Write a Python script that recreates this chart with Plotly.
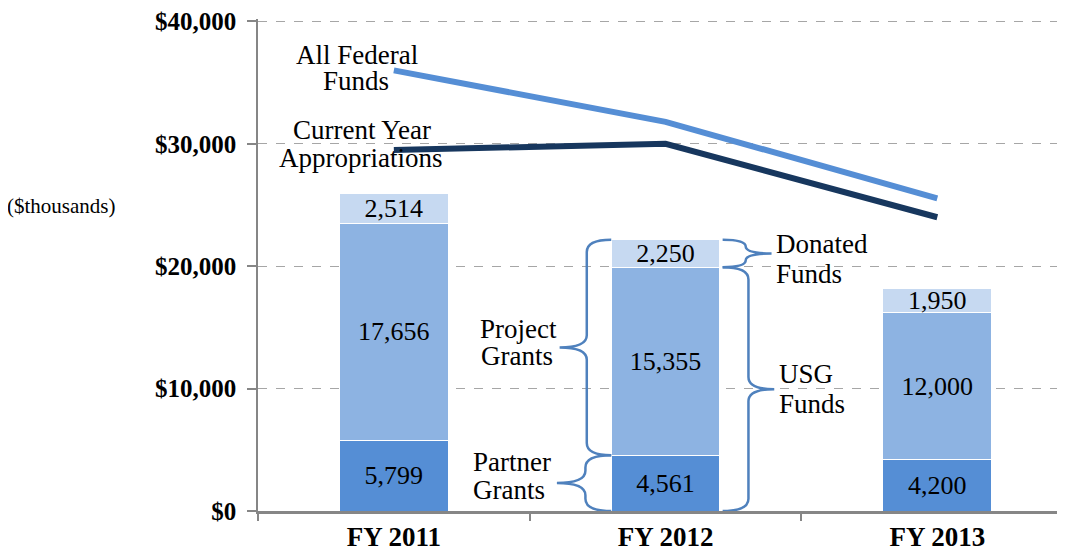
import plotly.graph_objects as go

# Funding by fiscal year ($ thousands)
years = ["FY 2011", "FY 2012", "FY 2013"]
partner_grants = [5799, 4561, 4200]
project_grants = [17656, 15355, 12000]
donated_funds = [2514, 2250, 1950]
all_federal = [36000, 31800, 25550]
current_year = [29500, 30000, 24000]
y_ticks = [0, 10000, 20000, 30000, 40000]
y_tick_labels = ["$0", "$10,000", "$20,000", "$30,000", "$40,000"]

SERIF = "Liberation Serif, Times New Roman, serif"
BRACE_COLOR = "#4F81BD"
AXIS_COLOR = "#868686"

fig = go.Figure()

segments = [
    ("Partner Grants", partner_grants, "#558ED5"),
    ("Project Grants", project_grants, "#8DB3E2"),
    ("Donated Funds", donated_funds, "#C6D9F1"),
]
for name, vals, color in segments:
    fig.add_trace(go.Bar(
        x=years, y=vals, name=name,
        marker=dict(color=color, line=dict(color="white", width=1)),
        width=0.4,
        text=[f"{v:,}" for v in vals],
        textposition="inside",
        insidetextanchor="middle",
        constraintext="none",
        textfont=dict(family=SERIF, size=26, color="black"),
        hoverinfo="x+y+name",
    ))

fig.add_trace(go.Scatter(
    x=years, y=all_federal, mode="lines", name="All Federal Funds",
    line=dict(color="#558ED5", width=6),
))
fig.add_trace(go.Scatter(
    x=years, y=current_year, mode="lines", name="Current Year Appropriations",
    line=dict(color="#17375E", width=6),
))


def brace(x_end, x_spine, x_tip, y_lo, y_hi, r):
    """curly brace path in data coordinates"""
    y_mid = (y_lo + y_hi) / 2
    r = min(r, (y_hi - y_lo) / 4)
    return (f"M {x_end},{y_hi} Q {x_spine},{y_hi} {x_spine},{y_hi - r} "
            f"L {x_spine},{y_mid + r} Q {x_spine},{y_mid} {x_tip},{y_mid} "
            f"Q {x_spine},{y_mid} {x_spine},{y_mid - r} "
            f"L {x_spine},{y_lo + r} Q {x_spine},{y_lo} {x_end},{y_lo}")


# braces are drawn around the FY 2012 bar
i = 1
usg_top = partner_grants[i] + project_grants[i]
total = usg_top + donated_funds[i]
brace_paths = [
    brace(0.8, 0.71, 0.61, partner_grants[i], total, 1000),
    brace(0.8, 0.705, 0.60, 0, partner_grants[i], 1000),
    brace(1.21, 1.295, 1.39, usg_top, total, 1000),
    brace(1.21, 1.305, 1.40, 0, usg_top, 1000),
]
for p in brace_paths:
    fig.add_shape(type="path", path=p, xref="x", yref="y",
                  line=dict(color=BRACE_COLOR, width=2.5))

# label lines: (text, x, y, xanchor)
labels = [
    ("All Federal", -0.135, 37240, "center"),
    ("Funds", -0.139, 35130, "center"),
    ("Current Year", -0.117, 31160, "center"),
    ("Appropriations", -0.124, 28880, "center"),
    ("Donated", 1.40, 21830, "left"),
    ("Funds", 1.40, 19390, "left"),
    ("USG", 1.41, 11200, "left"),
    ("Funds", 1.41, 8760, "left"),
    ("Project", 0.458, 14850, "center"),
    ("Grants", 0.455, 12660, "center"),
    ("Partner", 0.285, 3980, "left"),
    ("Grants", 0.285, 1700, "left"),
]
for text, x, y, anchor in labels:
    fig.add_annotation(x=x, y=y, xref="x", yref="y", text=text,
                       showarrow=False, xanchor=anchor, yanchor="middle",
                       font=dict(family=SERIF, size=27, color="black"))

fig.add_annotation(x=-0.244, y=0.619, xref="paper", yref="paper",
                   text="($thousands)", showarrow=False,
                   xanchor="center", yanchor="middle",
                   font=dict(family=SERIF, size=21, color="black"))

# page body has an 8px margin, so the figure is sized to fit inside it
fig.update_layout(
    barmode="stack",
    width=1057, height=544,
    margin=dict(l=250, r=0, t=9, b=40),
    paper_bgcolor="white",
    plot_bgcolor="white",
    showlegend=False,
)

fig.update_xaxes(
    type="category",
    range=[-0.5, 2.47],
    showline=True, linecolor=AXIS_COLOR, linewidth=2.5,
    ticks="outside", tickson="boundaries", ticklen=7,
    tickcolor=AXIS_COLOR, tickwidth=2,
    tickfont=dict(family=SERIF, size=27, color="black", weight="bold"),
    showgrid=False,
)
fig.update_yaxes(
    range=[0, 40200],
    tickmode="array", tickvals=y_ticks, ticktext=y_tick_labels,
    showline=True, linecolor=AXIS_COLOR, linewidth=1.5,
    ticks="outside", ticklen=9, tickcolor=AXIS_COLOR, tickwidth=1.5,
    ticklabelstandoff=6, ticklabeloverflow="allow",
    tickfont=dict(family=SERIF, size=25, color="black", weight="bold"),
    showgrid=True, gridcolor="#A6A6A6", gridwidth=1, griddash="dash",
    zeroline=False,
)

fig.write_html("out.html")
